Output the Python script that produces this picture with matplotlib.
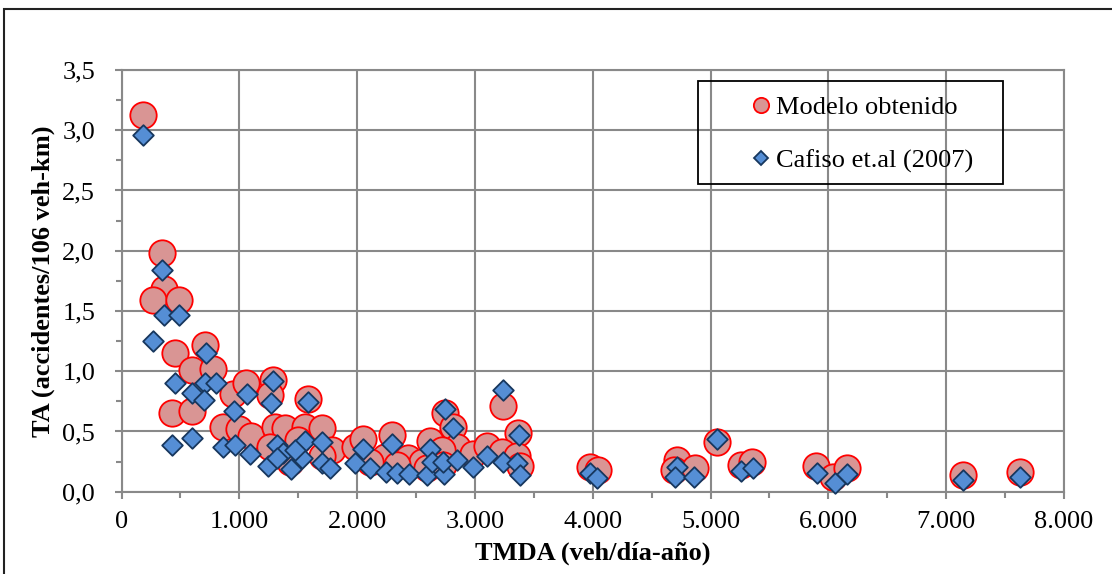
import matplotlib.pyplot as plt
from matplotlib.ticker import MultipleLocator, FuncFormatter
from matplotlib.patches import Rectangle
from matplotlib.lines import Line2D

plt.rcParams['font.family'] = ['Liberation Serif', 'DejaVu Serif']

# Modelo obtenido
modelo_x = [185, 346, 361, 265, 488, 711, 454, 596, 779, 426, 600, 945, 1060, 858, 1000,
            1100, 1284, 1261, 1586, 1303, 1388, 1261, 1558, 1700, 1784, 1982, 1501, 2053,
            2294, 2619, 2746, 2810, 2846, 2980, 2237, 2435, 2718, 2548, 3100, 3236, 3368,
            3227, 3355, 3383, 1430, 1700, 2110, 2336, 2591, 2732,
            3977, 4048, 4713, 4690, 4868, 5058, 5256, 5350, 5896, 6043, 6156, 7141, 7628]
modelo_y = [3.13, 1.98, 1.68, 1.59, 1.59, 1.22, 1.15, 1.01, 1.02, 0.65, 0.67, 0.81, 0.90,
            0.54, 0.52, 0.46, 0.93, 0.80, 0.77, 0.54, 0.525, 0.37, 0.54, 0.525, 0.35, 0.37,
            0.43, 0.44, 0.47, 0.42, 0.65, 0.54, 0.37, 0.31, 0.29, 0.28, 0.35, 0.25, 0.38,
            0.715, 0.485, 0.33, 0.30, 0.21, 0.25, 0.30, 0.25, 0.22, 0.20, 0.22,
            0.207, 0.18, 0.263, 0.18, 0.194, 0.415, 0.221, 0.249, 0.213, 0.124, 0.194,
            0.138, 0.166]

# Cafiso et.al (2007)
cafiso_x = [185, 346, 363, 488, 270, 717, 454, 709, 800, 596, 700, 426, 596, 864, 960,
            955, 1063, 1091, 1289, 1267, 1586, 1240, 1318, 1374, 1437, 1558, 1536, 1700,
            1705, 1770, 1473, 1318, 2046, 1982, 2110, 2300, 2244, 2336, 2440, 2591, 2740,
            2616, 2633, 2732, 2846, 2986, 2746, 2814, 3105, 3238, 3375, 3238, 3357, 3380,
            3977, 4034, 4713, 4699, 4860, 5058, 5256, 5358, 5902, 6057, 6156, 7141, 7628]
cafiso_y = [2.96, 1.84, 1.47, 1.47, 1.25, 1.15, 0.90, 0.90, 0.905, 0.816, 0.76, 0.387,
            0.445, 0.37, 0.387, 0.672, 0.815, 0.31, 0.92, 0.74, 0.746, 0.217, 0.387, 0.318,
            0.187, 0.42, 0.277, 0.415, 0.24, 0.20, 0.346, 0.277, 0.353, 0.235, 0.194, 0.397,
            0.16, 0.153, 0.145, 0.138, 0.143, 0.353, 0.249, 0.249, 0.263, 0.207, 0.685,
            0.526, 0.30, 0.845, 0.47, 0.249, 0.235, 0.138,
            0.153, 0.111, 0.207, 0.124, 0.119, 0.434, 0.174, 0.194, 0.153, 0.07, 0.144,
            0.097, 0.124]

fig = plt.figure(figsize=(11.12, 5.74), dpi=100)
ax = fig.add_axes([121.5 / 1112, 1 - 491.7 / 574, 942.5 / 1112, 421.7 / 574])

gray = '#898989'
ax.scatter(modelo_x, modelo_y, s=19 ** 2, marker='o', facecolor='#D99594',
           edgecolor='#FF0000', linewidth=1.3, zorder=3, clip_on=False)
ax.scatter(cafiso_x, cafiso_y, s=10.5 ** 2, marker='D', facecolor='#558ED5',
           edgecolor='#17375E', linewidth=1.3, zorder=4, clip_on=False)

ax.set_xlim(0, 8000)
ax.set_ylim(0, 3.5)
ax.xaxis.set_major_locator(MultipleLocator(1000))
ax.xaxis.set_minor_locator(MultipleLocator(500))
ax.yaxis.set_major_locator(MultipleLocator(0.5))
ax.yaxis.set_minor_locator(MultipleLocator(0.25))
ax.xaxis.set_major_formatter(FuncFormatter(lambda v, p: f"{int(v):,}".replace(',', '.')))
ax.yaxis.set_major_formatter(FuncFormatter(lambda v, p: f"{v:.1f}".replace('.', ',')))
ax.grid(True, which='major', color=gray, linewidth=1.5, zorder=0)
ax.set_axisbelow(True)
for s in ax.spines.values():
    s.set_color(gray)
    s.set_linewidth(1.5)
ax.tick_params(which='both', direction='out', color=gray, width=1.5, labelsize=19)
ax.tick_params(which='major', length=5, pad=9)
ax.tick_params(axis='y', which='major', pad=14)
ax.tick_params(which='minor', length=4)

ax.set_xlabel("TMDA (veh/día-año)", fontsize=19, fontweight='bold', labelpad=6)
ax.set_ylabel("TA (accidentes/106 veh-km)", fontsize=19, fontweight='bold', labelpad=5)

# legend box (transparent, square)
ax.add_patch(Rectangle(((698 - 121.5) / 942.5, (491.7 - 184.3) / 421.7),
                       (1003 - 698) / 942.5, (184.3 - 80.7) / 421.7,
                       transform=ax.transAxes, fill=False, edgecolor='black',
                       linewidth=1.3, zorder=5, clip_on=False))
handles = [
    Line2D([], [], marker='o', linestyle='none', markersize=11, markerfacecolor='#D99594',
           markeredgecolor='#FF0000', markeredgewidth=1.3),
    Line2D([], [], marker='D', linestyle='none', markersize=7.5, markerfacecolor='#558ED5',
           markeredgecolor='#17375E', markeredgewidth=1.3),
]
ax.legend(handles, ["Modelo obtenido", "Cafiso et.al (2007)"], frameon=False,
          loc='upper left', bbox_to_anchor=((748 - 121.5) / 942.5, (491.7 - 96) / 421.7),
          fontsize=19, handlelength=1.0, handletextpad=0.08, labelspacing=1.12,
          borderpad=0, borderaxespad=0)

# outer chart border
fig.add_artist(Rectangle((4 / 1112, -0.1), 1.2, 1 - 9 / 574 + 0.1,
                         transform=fig.transFigure, fill=False, edgecolor='#222222',
                         linewidth=1.5, clip_on=False))

fig.savefig('out.png', dpi=100)
